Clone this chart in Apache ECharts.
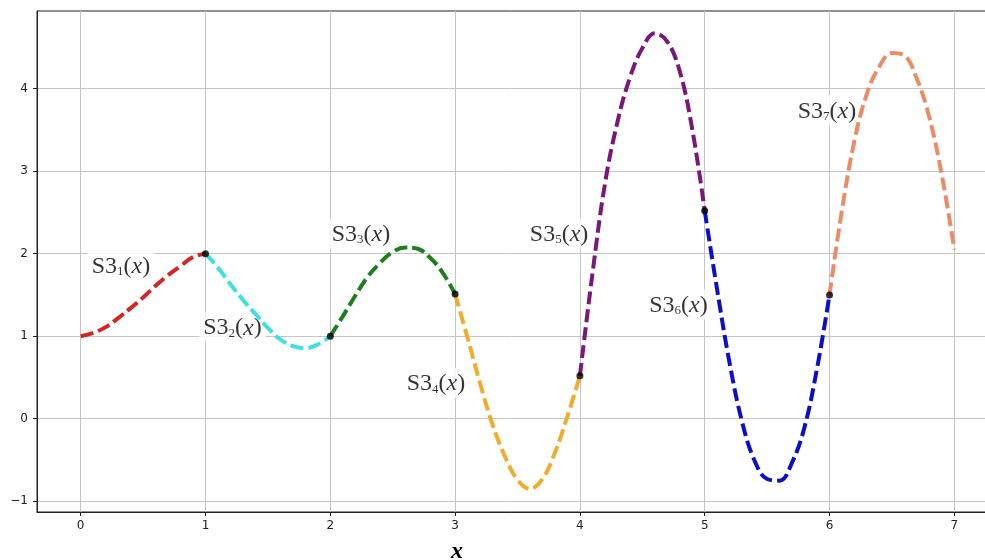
<!DOCTYPE html>
<html>
<head>
<meta charset="utf-8">
<script src="https://cdn.jsdelivr.net/npm/echarts@6/dist/echarts.min.js"></script>
<style>
html,body{margin:0;padding:0;background:#fff;}
#c{width:985px;height:560px;}
</style>
</head>
<body>
<div id="c"></div>
<script>
// ---- data ----
const xTicks = [0, 1, 2, 3, 4, 5, 6, 7];
const yTicks = [-1, 0, 1, 2, 3, 4];

const s1x = [0.0, 0.1, 0.2, 0.3, 0.4, 0.5, 0.6, 0.7, 0.8, 0.9, 1.0];
const s1y = [1.00, 1.04, 1.11, 1.22, 1.34, 1.47, 1.61, 1.74, 1.85, 1.96, 2.00];

const s2x = [1.0, 1.1, 1.2, 1.3, 1.4, 1.5, 1.6, 1.7, 1.8, 1.9, 2.0];
const s2y = [2.00, 1.83, 1.63, 1.44, 1.27, 1.10, 0.96, 0.88, 0.855, 0.90, 1.00];

const s3x = [2.0, 2.1, 2.2, 2.3, 2.4, 2.5, 2.6, 2.7, 2.8, 2.9, 3.0];
const s3y = [1.00, 1.24, 1.49, 1.72, 1.89, 2.02, 2.075, 2.06, 1.95, 1.77, 1.51];

const s4x = [3.0, 3.1, 3.2, 3.3, 3.4, 3.5, 3.6, 3.7, 3.8, 3.9, 4.0];
const s4y = [1.51, 0.98, 0.43, -0.07, -0.46, -0.74, -0.85, -0.73, -0.41, 0.03, 0.52];

const s5x = [4.0, 4.1, 4.2, 4.3, 4.4, 4.5, 4.6, 4.7, 4.8, 4.9, 5.0];
const s5y = [0.52, 1.75, 2.84, 3.59, 4.13, 4.49, 4.67, 4.57, 4.21, 3.51, 2.52];

const s6x = [5.0, 5.1, 5.2, 5.3, 5.4, 5.5, 5.6, 5.7, 5.8, 5.9, 6.0];
const s6y = [2.52, 1.56, 0.67, -0.04, -0.51, -0.73, -0.75, -0.53, -0.10, 0.61, 1.50];

const s7x = [6.0, 6.1, 6.2, 6.3, 6.4, 6.5, 6.6, 6.7, 6.8, 6.9, 7.0];
const s7y = [1.50, 2.53, 3.37, 3.94, 4.27, 4.43, 4.40, 4.12, 3.65, 2.95, 2.05];

const knotX = [1, 2, 3, 4, 5, 6];
const knotY = [2.00, 1.00, 1.51, 0.52, 2.52, 1.50];

const labelMain = 'S3';
const labelSubs = ['1', '2', '3', '4', '5', '6', '7'];
const xTitle = 'x';

// ---- styling / layout ----
const segColors = ['#d42525', '#3fe0e0', '#1f7d1f', '#efad2f', '#7a177a', '#0c0fc6', '#ec8b67'];
const labelAnchors = [
  [0.323, 1.857], [1.216, 1.109], [2.246, 2.245], [2.847, 0.433],
  [3.833, 2.245], [4.790, 1.385], [5.980, 3.737]
];

const segsX = [s1x, s2x, s3x, s4x, s5x, s6x, s7x];
const segsY = [s1y, s2y, s3y, s4y, s5y, s6y, s7y];
const zip = (a, b) => a.map((v, i) => [v, b[i]]);
const fmt = v => (v < 0 ? '\u2212' + Math.abs(v) : String(v));

const lineSeries = segsX.map((xs, k) => ({
  type: 'line',
  name: labelMain + labelSubs[k],
  data: zip(xs, segsY[k]),
  smooth: 0.4,
  showSymbol: false,
  symbol: 'none',
  z: 3,
  silent: true,
  lineStyle: { color: segColors[k], width: 4, type: [13, 5], cap: 'butt' }
}));

const labelSeries = {
  type: 'scatter',
  z: 1,
  silent: true,
  symbolSize: 1,
  itemStyle: { color: 'transparent' },
  data: labelAnchors.map((p, k) => ({
    value: p,
    label: { formatter: '{m|' + labelMain + '}{s|' + labelSubs[k] + '}{m|(}{i|' + xTitle + '}{m|)}' }
  })),
  label: {
    show: true,
    position: 'inside',
    backgroundColor: '#ffffff',
    padding: [2, 4, 2, 4],
    rich: {
      m: { fontFamily: 'Liberation Serif', fontSize: 24, color: '#000', lineHeight: 26, verticalAlign: 'bottom' },
      s: { fontFamily: 'Liberation Serif', fontSize: 13, color: '#000', lineHeight: 16, verticalAlign: 'bottom' },
      i: { fontFamily: 'Liberation Serif', fontSize: 24, fontStyle: 'italic', color: '#000', lineHeight: 26, verticalAlign: 'bottom' }
    }
  }
};

const knotSeries = {
  type: 'scatter',
  z: 6,
  silent: true,
  symbol: 'circle',
  symbolSize: 7,
  itemStyle: { color: '#000' },
  data: zip(knotX, knotY)
};

const axisCommon = {
  type: 'value',
  axisLine: { show: true, onZero: false, lineStyle: { color: '#222', width: 1 } },
  splitLine: { show: true, lineStyle: { color: '#c4c4c4', width: 1 } }
};

const chart = echarts.init(document.getElementById('c'), null, { renderer: 'canvas' });
chart.setOption({
  animation: false,
  backgroundColor: '#ffffff',
  grid: {
    left: 37, top: 11, right: -13, bottom: 48,
    show: true, borderColor: '#222', borderWidth: 1, backgroundColor: 'transparent',
    containLabel: false, outerBoundsMode: 'none'
  },
  xAxis: Object.assign({}, axisCommon, {
    min: -0.35, max: 7.35,
    axisTick: { show: true, inside: false, length: 4, customValues: xTicks, lineStyle: { color: '#222' } },
    axisLabel: { customValues: xTicks, formatter: fmt, margin: 8, fontFamily: 'DejaVu Sans', fontSize: 12, color: '#222' }
  }),
  yAxis: Object.assign({}, axisCommon, {
    min: -1.13, max: 4.94,
    axisTick: { show: true, inside: false, length: 4, customValues: yTicks, lineStyle: { color: '#222' } },
    axisLabel: { customValues: yTicks, formatter: fmt, margin: 9, fontFamily: 'DejaVu Sans', fontSize: 12, color: '#222' }
  }),
  graphic: [{
    type: 'text', x: 457, y: 552, z: 10,
    style: { text: xTitle, align: 'center', verticalAlign: 'middle', font: 'italic bold 24px "Liberation Serif"', fill: '#000' }
  }],
  series: [labelSeries].concat(lineSeries, [knotSeries])
});
</script>
</body>
</html>
